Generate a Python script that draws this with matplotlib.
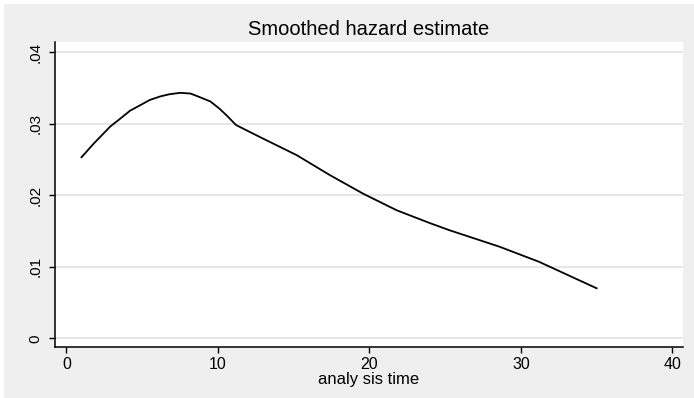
import matplotlib
matplotlib.use("Agg")
import matplotlib.pyplot as plt
from matplotlib.patches import Rectangle

# smoothed hazard, read at a handful of analysis times
t = [1.0, 1.8, 2.9, 3.5, 4.2, 4.9, 5.5, 6.2, 6.8, 7.5, 8.2, 8.8, 9.5, 10.1,
     10.6, 11.2, 12.8, 15.2, 17.4, 19.6, 21.8, 24.0, 25.3, 28.6, 31.2, 35.0]
haz = [0.0253, 0.0272, 0.0296, 0.0306, 0.0318, 0.0326, 0.0333, 0.0338, 0.0341,
       0.0343, 0.0342, 0.0337, 0.0331, 0.0321, 0.0311, 0.0298, 0.0281, 0.0256,
       0.0228, 0.0202, 0.0179, 0.0161, 0.0151, 0.0128, 0.0107, 0.0070]

xticks = [0, 10, 20, 30, 40]
yticks = [0, 0.01, 0.02, 0.03, 0.04]
ylabels = ["0", ".01", ".02", ".03", ".04"]

plt.rcParams["font.family"] = ["Liberation Sans", "DejaVu Sans"]

W, H = 694, 398
fig = plt.figure(figsize=(W / 100, H / 100), dpi=100, facecolor="white")
# gray graph region, leaving a thin white strip at top and left
fig.patches.append(Rectangle((4 / W, 0), 1, (H - 4) / H, transform=fig.transFigure,
                             facecolor="#efefef", edgecolor="none", zorder=-10))

ax = fig.add_axes([55 / W, (H - 347) / H, (683 - 55) / W, (347 - 42) / H])
ax.set_facecolor("white")
ax.plot(t, haz, color="black", lw=1.3)

ax.set_xlim(-0.75, 40.7)
ax.set_ylim(-0.0012, 0.0414)
ax.set_xticks(xticks)
ax.set_xticklabels([str(v) for v in xticks], fontsize=11.5)
ax.set_yticks(yticks)
ax.set_yticklabels(ylabels, fontsize=11, rotation=90, va="center")
ax.tick_params(direction="out", length=4, width=1)
ax.tick_params(axis="x", pad=3)
ax.tick_params(axis="y", pad=5)
ax.yaxis.grid(True, color="#e6e6e6", lw=1.4)
ax.set_axisbelow(True)
for s in ["top", "right"]:
    ax.spines[s].set_visible(False)
for s in ["left", "bottom"]:
    ax.spines[s].set_linewidth(1.1)

ax.set_title("Smoothed hazard estimate", fontsize=14.5, pad=5)
ax.set_xlabel("analy sis time", fontsize=12, labelpad=0.5)

fig.savefig("out.png", dpi=100, facecolor=fig.get_facecolor())
